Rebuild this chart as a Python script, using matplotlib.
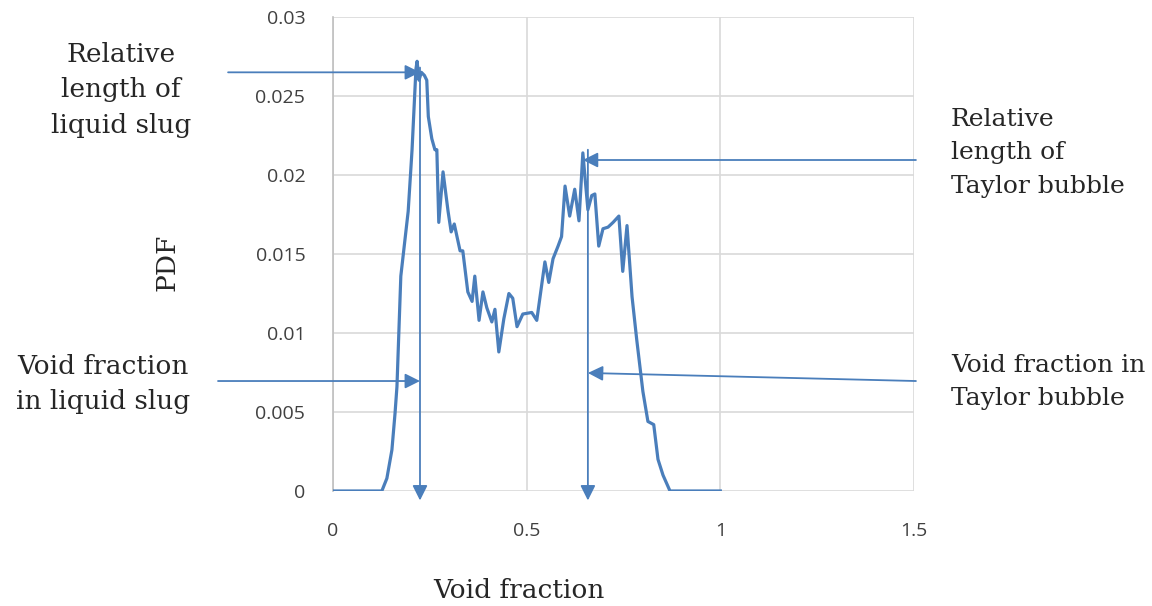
import matplotlib
matplotlib.use("Agg")
import matplotlib.pyplot as plt

# void fraction vs PDF
void = [0.0, 0.05, 0.10, 0.126, 0.139, 0.152, 0.160, 0.165, 0.175, 0.194,
        0.204, 0.214, 0.217, 0.222, 0.228, 0.236, 0.242, 0.246, 0.255, 0.263,
        0.268, 0.273, 0.284, 0.297, 0.305, 0.313, 0.328, 0.335, 0.348, 0.359,
        0.366, 0.377, 0.387, 0.397, 0.410, 0.418, 0.428, 0.441, 0.454, 0.464,
        0.475, 0.490, 0.513, 0.526, 0.547, 0.557, 0.568, 0.581, 0.590, 0.599,
        0.611, 0.624, 0.635, 0.645, 0.658, 0.668, 0.676, 0.686, 0.697, 0.710,
        0.723, 0.738, 0.748, 0.759, 0.772, 0.784, 0.800, 0.813, 0.828, 0.839,
        0.852, 0.870, 0.95, 1.0]
pdf = [0.0, 0.0, 0.0, 0.0, 0.0008, 0.0026, 0.0049, 0.0066, 0.0136, 0.0177,
       0.0216, 0.0267, 0.0272, 0.0260, 0.0265, 0.0263, 0.0260, 0.0237, 0.0223, 0.0216,
       0.0216, 0.0170, 0.0202, 0.0177, 0.0164, 0.0169, 0.0152, 0.0152, 0.0126, 0.0120,
       0.0136, 0.0108, 0.0126, 0.0116, 0.0107, 0.0115, 0.0088, 0.0109, 0.0125, 0.0122,
       0.0104, 0.0112, 0.0113, 0.0108, 0.0145, 0.0132, 0.0147, 0.0155, 0.0161, 0.0193,
       0.0174, 0.0191, 0.0171, 0.0214, 0.0178, 0.0187, 0.0188, 0.0155, 0.0166, 0.0167,
       0.0170, 0.0174, 0.0139, 0.0168, 0.0123, 0.0096, 0.0063, 0.0044, 0.0042, 0.0020,
       0.0010, 0.0, 0.0, 0.0]

xticks = [0, 0.5, 1, 1.5]
xtick_labels = ['0', '0.5', '1', '1.5']
yticks = [0, 0.005, 0.01, 0.015, 0.02, 0.025, 0.03]
ytick_labels = ['0', '0.005', '0.01', '0.015', '0.02', '0.025', '0.03']

# slug / bubble markers
slug_void = 0.2245
slug_len = 0.0265
slug_void_level = 0.00696
bubble_void = 0.658
bubble_len = 0.02095
bubble_len_x = 0.645

blue = '#4a7ebb'
txt = 'DejaVu Serif'
ink = '#262626'

fig = plt.figure(figsize=(11.52, 6.06), dpi=100)
ax = fig.add_axes([0.2891, 0.1898, 0.5043, 0.7821])

ax.plot(void, pdf, color=blue, lw=2.3, solid_joinstyle='round', zorder=3)

ax.set_xlim(0, 1.5)
ax.set_ylim(0, 0.03)
ax.set_xticks(xticks, xtick_labels)
ax.set_yticks(yticks, ytick_labels)
ax.grid(True, color='#d9d9d9', lw=1.2)
ax.set_axisbelow(True)
for s in ['top', 'right', 'bottom']:
    ax.spines[s].set_visible(False)
ax.spines['left'].set_color('#bfbfbf')
ax.spines['left'].set_linewidth(1.2)
ax.tick_params(length=0, labelsize=14, labelcolor='#404040')
ax.tick_params(axis='x', pad=22)
ax.tick_params(axis='y', pad=20)
for lab in ax.get_xticklabels() + ax.get_yticklabels():
    lab.set_fontfamily('Open Sans')

# axis titles
fig.text(519 / 1152, 1 - 590 / 606, 'Void fraction', family=txt, fontsize=19,
         color=ink, ha='center', va='center')
fig.text(167 / 1152, 1 - 262 / 606, 'PDF', family=txt, fontsize=19,
         color=ink, ha='center', va='center', rotation=90)

head = dict(arrowstyle='-|>,head_length=0.6,head_width=0.3', mutation_scale=15,
            color=blue, lw=1.3, shrinkA=0, shrinkB=0)

def arrow(x0, y0, x1, y1):
    ax.annotate('', xy=(x1, y1), xytext=(x0, y0), arrowprops=head,
                annotation_clip=False, zorder=4)

arrow(-0.271, slug_len, slug_void, slug_len)
arrow(-0.297, slug_void_level, slug_void, slug_void_level)
arrow(slug_void, 0.0268, slug_void, -0.0006)
arrow(1.505, bubble_len, bubble_len_x, bubble_len)
arrow(1.505, 0.00696, bubble_void, 0.00747)
arrow(bubble_void, 0.0216, bubble_void, -0.0006)

fig.text(121 / 1152, 1 - 90 / 606, 'Relative\nlength of\nliquid slug', family=txt,
         fontsize=19, ha='center', va='center', linespacing=1.55, color=ink)
fig.text(103 / 1152, 1 - 384 / 606, 'Void fraction\nin liquid slug', family=txt,
         fontsize=19, ha='center', va='center', linespacing=1.55, color=ink)
fig.text(951 / 1152, 1 - 153 / 606, 'Relative\nlength of\nTaylor bubble', family=txt,
         fontsize=18, ha='left', va='center', linespacing=1.6, color=ink)
fig.text(951 / 1152, 1 - 382 / 606, 'Void fraction in\nTaylor bubble', family=txt,
         fontsize=18, ha='left', va='center', linespacing=1.6, color=ink)

fig.savefig('out.png', dpi=100)
